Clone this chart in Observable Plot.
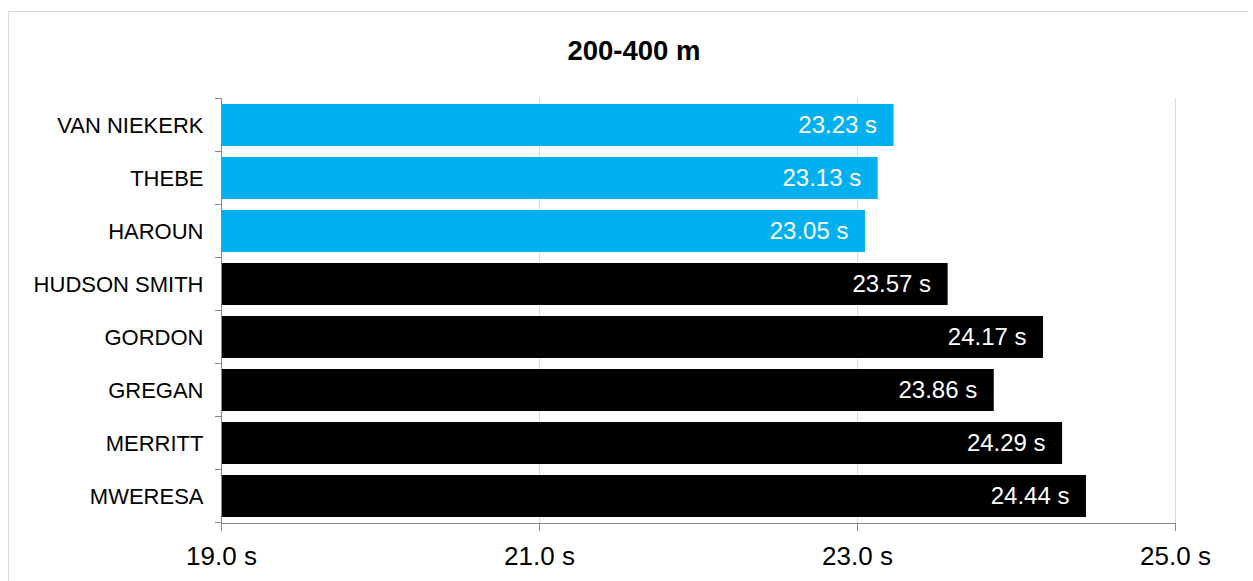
<!DOCTYPE html>
<html>
<head>
<meta charset="utf-8">
<script src="https://cdn.jsdelivr.net/npm/d3@7"></script>
<script src="https://cdn.jsdelivr.net/npm/@observablehq/plot@0.6"></script>
<style>
  html, body { margin: 0; padding: 0; background: #fff; }
  body { width: 1253px; height: 581px; position: relative; overflow: hidden; font-family: "Liberation Sans", Arial, sans-serif; }
  #frame { position: absolute; left: 8px; top: 11px; width: 1240px; height: 600px; border-top: 1px solid #d9d9d9; border-left: 1px solid #d9d9d9; box-sizing: border-box; }
  #title { position: relative; height: 80px; box-sizing: border-box; padding-top: 37px; padding-left: 15px; text-align: center; font-weight: bold; font-size: 27.5px; line-height: 27px; color: #000; }
  #chart { position: relative; }
  #chart svg { display: block; }
</style>
</head>
<body>
<div id="frame"></div>
<div id="title">200-400 m</div>
<div id="chart"></div>
<script>
const athletes = ["VAN NIEKERK", "THEBE", "HAROUN", "HUDSON SMITH", "GORDON", "GREGAN", "MERRITT", "MWERESA"];
const times = [23.23, 23.13, 23.05, 23.57, 24.17, 23.86, 24.29, 24.44];
const groups = ["medal", "medal", "medal", "other", "other", "other", "other", "other"];
const xTicks = [19, 21, 23, 25];
const gridTicks = [21, 23, 25];
const baseline = 19;

const data = athletes.map((name, i) => ({ name, time: times[i], group: groups[i] }));

// category-boundary ticks on the y axis (Excel style), drawn from the band scale
function categoryTicks(index, scales, values, dimensions) {
  const g = d3.create("svg:g");
  const y = scales.y;
  if (!y || typeof y.step !== "function") return g.node();
  const step = y.step();
  const outer = (step - y.bandwidth()) / 2;
  const x0 = dimensions.marginLeft;
  const positions = athletes.map(n => y(n) - outer);
  positions.push(y(athletes[athletes.length - 1]) + y.bandwidth() + outer);
  for (const p of positions) {
    g.append("line").attr("x1", x0 - 6).attr("x2", x0).attr("y1", p).attr("y2", p)
      .attr("stroke", "#868686").attr("stroke-width", 1);
  }
  return g.node();
}

const chart = Plot.plot({
  width: 1253,
  height: 501,
  marginTop: 18,
  marginBottom: 58,
  marginLeft: 221,
  marginRight: 78,
  style: { fontFamily: "'Liberation Sans', Arial, sans-serif", color: "#000", background: "transparent", overflow: "visible" },
  x: { domain: [19, 25] },
  y: { domain: athletes, paddingInner: 0.2, paddingOuter: 0.1 },
  color: { domain: ["medal", "other"], range: ["#00B0F0", "#000000"] },
  marks: [
    Plot.ruleX(gridTicks, { stroke: "#d9d9d9", strokeWidth: 1 }),
    Plot.barX(data, { y: "name", x1: baseline, x2: "time", fill: "group" }),
    Plot.text(data, { y: "name", x: "time", text: d => d.time.toFixed(2) + " s", textAnchor: "end", dx: -17, fill: "white", fontSize: 24 }),
    Plot.ruleX([baseline], { stroke: "#868686" }),
    Plot.frame({ anchor: "bottom", stroke: "#868686" }),
    categoryTicks,
    Plot.axisY({ tickSize: 0, tickPadding: 18, fontSize: 22, fill: "#000", label: null }),
    Plot.axisX({ ticks: xTicks, tickFormat: d => d.toFixed(1) + " s", tickSize: 8, tickPadding: 15, fontSize: 26, stroke: "#868686", fill: "#000", label: null })
  ]
});
document.getElementById("chart").appendChild(chart);
</script>
</body>
</html>
